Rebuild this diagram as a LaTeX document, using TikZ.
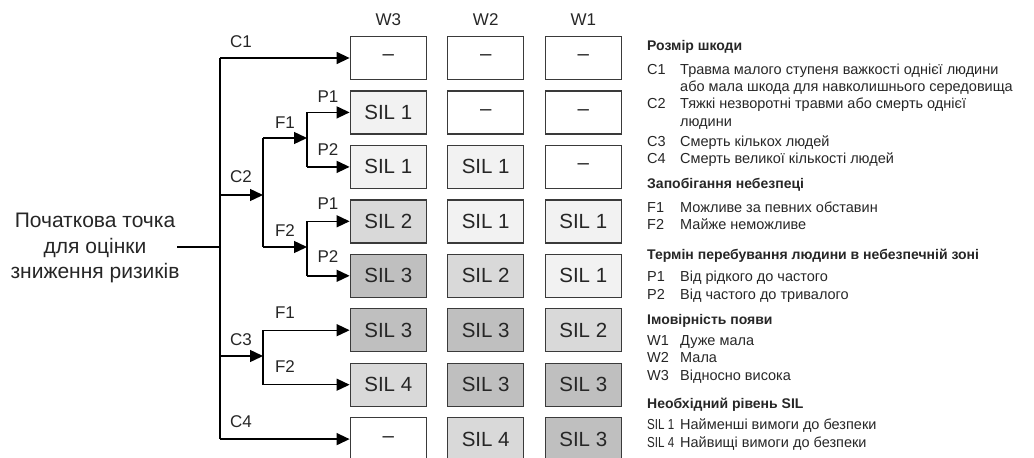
\documentclass[tikz,border=0pt]{standalone}
\usepackage{graphicx}
\usepackage{fontspec}
\setmainfont{Liberation Sans}
\usetikzlibrary{arrows.meta}
\definecolor{txt}{HTML}{262626}
\definecolor{boxline}{HTML}{3A3A3A}
\definecolor{silA}{HTML}{F2F2F2}
\definecolor{silB}{HTML}{D9D9D9}
\definecolor{silC}{HTML}{BFBFBF}
\begin{document}
\begin{tikzpicture}[x=1pt,y=-1pt,
  cell/.style={draw=boxline, line width=1.4pt, minimum width=76pt, minimum height=43pt,
    inner sep=0pt, text=txt, font=\fontsize{20.5}{24}\selectfont},
  s0/.style={cell, fill=white},
  s1/.style={cell, fill=silA},
  s2/.style={cell, fill=silB},
  s3/.style={cell, fill=silC},
  s4/.style={cell, fill=silB},
  branch/.style={line width=1.4pt, draw=black},
  arr/.style={branch, -{Triangle[length=13pt,width=12pt]}},
  tag/.style={text=txt, font=\fontsize{17}{20}\selectfont, inner sep=0pt},
  lhead/.style={anchor=west, inner sep=0pt, text=txt, text height=10pt, text depth=3pt,
    font=\fontsize{14}{16}\selectfont\bfseries},
  litem/.style={anchor=west, inner sep=0pt, text=txt, text height=10.5pt, text depth=3.5pt,
    font=\fontsize{14.5}{17}\selectfont},
]
\useasboundingbox (0,0) rectangle (1034,458);

% column headings
\foreach \n/\x in {W3/388.3, W2/485.7, W1/583.3}
  \node[tag] (h\n) at (\x,20) {\n};

% SIL grid: rows top to bottom, columns W3, W2, W1
\foreach \r/\y/\a/\ta/\b/\tb/\c/\tc in {
  1/58.0/s0/--/s0/--/s0/--,
  2/112.4/s1/SIL 1/s0/--/s0/--,
  3/166.9/s1/SIL 1/s1/SIL 1/s0/--,
  4/221.3/s2/SIL 2/s1/SIL 1/s1/SIL 1,
  5/275.8/s3/SIL 3/s2/SIL 2/s1/SIL 1,
  6/330.2/s3/SIL 3/s3/SIL 3/s2/SIL 2,
  7/384.7/s4/SIL 4/s3/SIL 3/s3/SIL 3,
  8/439.1/s0/--/s4/SIL 4/s3/SIL 3}{
  \node[\a] (b\r-3) at (388.3,\y) {\ta};
  \node[\b] (b\r-2) at (485.7,\y) {\tb};
  \node[\c] (b\r-1) at (583.3,\y) {\tc};
}

% starting point
\node[text=txt, align=center, inner sep=0pt, font=\fontsize{21}{25.5}\selectfont]
  (start) at (95,248) {Початкова точка\\для оцінки\\зниження ризиків};
\coordinate (in) at (177,247);

% junction points of the decision tree
\coordinate (tC) at (220,247);
\coordinate (tTop) at (220,58);
\coordinate (tBot) at (220,439.1);
\coordinate (c2s) at (220,195);
\coordinate (c2j) at (263,195);
\coordinate (c3s) at (220,356);
\coordinate (c3j) at (263,356);
\coordinate (f1a) at (263,138);
\coordinate (f1j) at (307,138);
\coordinate (f2a) at (263,247);
\coordinate (f2j) at (307,247);
\coordinate (p1a) at (307,112.4);
\coordinate (p2a) at (307,166.9);
\coordinate (p3a) at (307,221.3);
\coordinate (p4a) at (307,275.8);
\coordinate (g1a) at (263,330.2);
\coordinate (g2a) at (263,384.7);

% trunk
\draw[branch] (in) -- (tC);
\draw[branch] (tTop) -- (tBot);
% C branches
\draw[arr] (tTop) -- (b1-3.west);
\draw[arr] (c2s) -- (c2j);
\draw[arr] (c3s) -- (c3j);
\draw[arr] (tBot) -- (b8-3.west);
% F branches under C2
\draw[branch] (f1a) -- (f2a);
\draw[arr] (f1a) -- (f1j);
\draw[arr] (f2a) -- (f2j);
% P branches
\draw[branch] (p1a) -- (p2a);
\draw[arr] (p1a) -- (b2-3.west);
\draw[arr] (p2a) -- (b3-3.west);
\draw[branch] (p3a) -- (p4a);
\draw[arr] (p3a) -- (b4-3.west);
\draw[arr] (p4a) -- (b5-3.west);
% F branches under C3
\draw[branch] (g1a) -- (g2a);
\draw[arr] (g1a) -- (b6-3.west);
\draw[arr] (g2a) -- (b7-3.west);

% branch labels
\node[tag] (lc1) at (241,42) {C1};
\node[tag] (lc2) at (241,177) {C2};
\node[tag] (lc3) at (241,340) {C3};
\node[tag] (lc4) at (241,422) {C4};
\node[tag] (lf1) at (285,123) {F1};
\node[tag] (lf2) at (285,231) {F2};
\node[tag] (lp1) at (328,97) {P1};
\node[tag] (lp2) at (328,150) {P2};
\node[tag] (lp3) at (328,204) {P1};
\node[tag] (lp4) at (328,257) {P2};
\node[tag] (lg1) at (285,313) {F1};
\node[tag] (lg2) at (285,367) {F2};

% legend
\def\kx{647}
\def\vx{680}
\node[lhead] (k1) at (\kx,47) {Розмір шкоди};
\node[litem] (k1a) at (\kx,71) {C1};
\node[litem] (k1at) at (\vx,71) {Травма малого ступеня важкості однієї людини};
\node[litem] (k1b) at (\vx,88) {або мала шкода для навколишнього середовища};
\node[litem] (k1c) at (\kx,105) {C2};
\node[litem] (k1ct) at (\vx,105) {Тяжкі незворотні травми або смерть однієї};
\node[litem] (k1d) at (\vx,123) {людини};
\node[litem] (k1e) at (\kx,143) {C3};
\node[litem] (k1et) at (\vx,143) {Смерть кількох людей};
\node[litem] (k1f) at (\kx,160) {C4};
\node[litem] (k1ft) at (\vx,160) {Смерть великої кількості людей};

\node[lhead] (k2) at (\kx,185) {Запобігання небезпеці};
\node[litem] (k2a) at (\kx,209) {F1};
\node[litem] (k2at) at (\vx,209) {Можливе за певних обставин};
\node[litem] (k2b) at (\kx,226) {F2};
\node[litem] (k2bt) at (\vx,226) {Майже неможливе};

\node[lhead] (k3) at (\kx,256) {Термін перебування людини в небезпечній зоні};
\node[litem] (k3a) at (\kx,278) {P1};
\node[litem] (k3at) at (\vx,278) {Від рідкого до частого};
\node[litem] (k3b) at (\kx,296) {P2};
\node[litem] (k3bt) at (\vx,296) {Від частого до тривалого};

\node[lhead] (k4) at (\kx,321) {Імовірність появи};
\node[litem] (k4a) at (\kx,342) {W1};
\node[litem] (k4at) at (\vx,342) {Дуже мала};
\node[litem] (k4b) at (\kx,359) {W2};
\node[litem] (k4bt) at (\vx,359) {Мала};
\node[litem] (k4c) at (\kx,377) {W3};
\node[litem] (k4ct) at (\vx,377) {Відносно висока};

\node[lhead] (k5) at (\kx,405) {Необхідний рівень SIL};
\node[litem] (k5a) at (\kx,426) {\scalebox{0.8}[1]{SIL 1}};
\node[litem] (k5at) at (\vx,426) {Найменші вимоги до безпеки};
\node[litem] (k5b) at (\kx,444) {\scalebox{0.8}[1]{SIL 4}};
\node[litem] (k5bt) at (\vx,444) {Найвищі вимоги до безпеки};
\end{tikzpicture}
\end{document}
